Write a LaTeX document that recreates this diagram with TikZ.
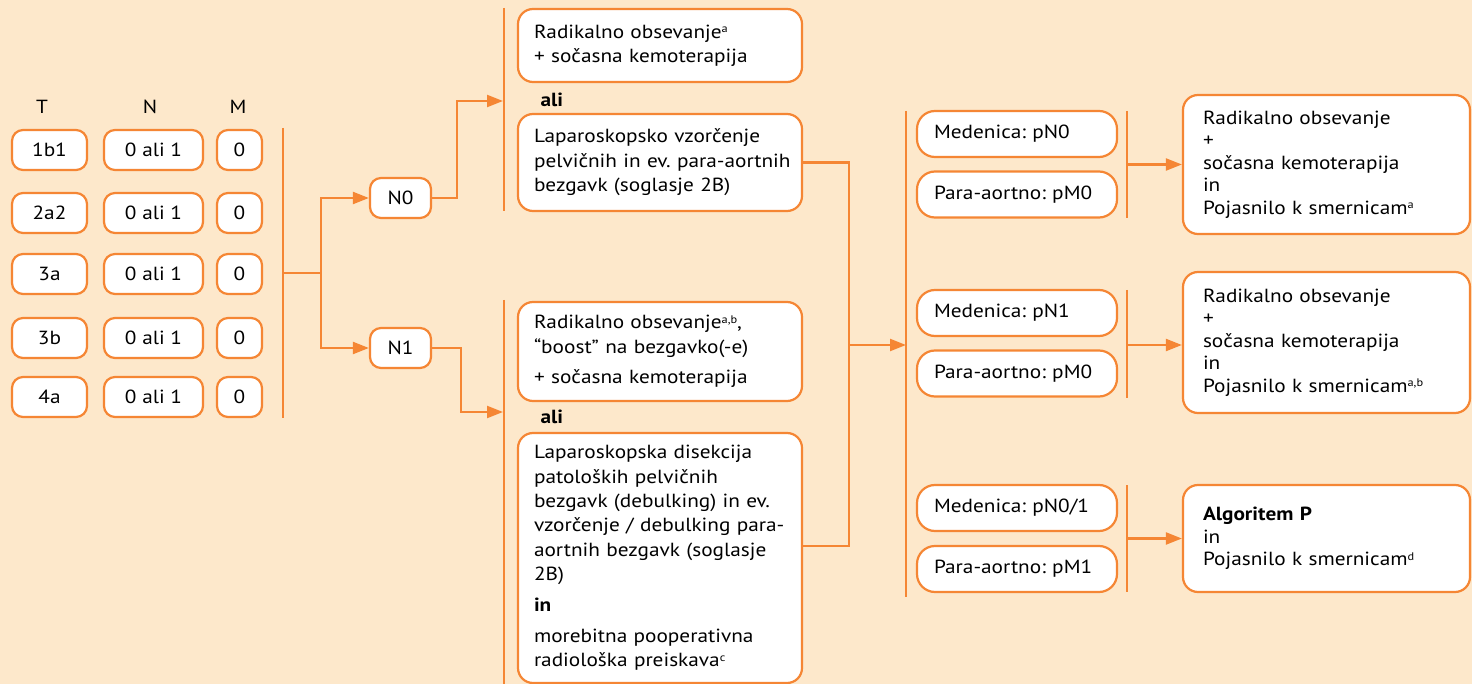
\documentclass[tikz,border=0pt]{standalone}
\usepackage{fontspec}
\setmainfont{PT Sans}[FakeStretch=1.12]
\usetikzlibrary{arrows.meta,calc}
\definecolor{bgpeach}{RGB}{253,232,203}
\definecolor{orng}{RGB}{245,134,52}
\newcommand\fnote[1]{\raisebox{0.6ex}{\fontsize{11}{11}\selectfont #1}}
\frenchspacing

\begin{document}
\begin{tikzpicture}[x=1pt,y=-1pt,
  every node/.style={font=\fontsize{19}{24.4}\selectfont, text=black},
  box/.style={draw=orng, fill=white, line width=2.2pt, rounded corners=15pt, inner sep=0pt},
  tnm/.style={box, rounded corners=11pt, minimum height=40pt, align=center},
  opt/.style={box, minimum width=284pt, text width=252pt, align=left},
  mid/.style={box, rounded corners=18pt, minimum width=200pt, minimum height=46pt, text width=166pt, align=left},
  res/.style={box, minimum width=287pt, text width=247pt, align=left, font=\fontsize{19}{22.6}\selectfont},
  conn/.style={draw=orng, line width=2.2pt},
  arr/.style={conn, -{Triangle[length=16pt,width=12pt]}},
]
% background and page size
\fill[bgpeach] (0,0) rectangle (1472,684);
\useasboundingbox (0,0) rectangle (1472,684);

% T N M table
\node (hT) at (42,107) {T};
\node (hN) at (150,107) {N};
\node (hM) at (238,107) {M};
\foreach \t [count=\i] in {1b1,2a2,3a,3b,4a}{
  \pgfmathsetmacro\yy{{150,213,274,338,397}[\i-1]}
  \node[tnm, minimum width=75pt] (t\i) at (49.5,\yy) {\t};
  \node[tnm, minimum width=99pt] (n\i) at (153.5,\yy) {0 ali 1};
  \node[tnm, minimum width=45pt] (m\i) at (239.5,\yy) {0};
}

% N0 / N1
\node[tnm, minimum width=61pt] (N0) at (400.5,198) {N0};
\node[tnm, minimum width=61pt] (N1) at (400.5,348) {N1};

% treatment options
\node[opt, minimum height=73pt] (A1) at (660,45.5)
  {Radikalno obsevanje\fnote{a}\\+ sočasna kemoterapija};
\node[anchor=west, font=\bfseries\fontsize{19}{22}\selectfont] (ali1) at (537,100) {ali};
\node[opt, minimum height=97pt] (A2) at (660,162.5)
  {Laparoskopsko vzorčenje\\\mbox{pelvičnih in ev. para-aortnih}\\bezgavk (soglasje 2B)};
\node[opt, minimum height=99pt] (B1) at (660,351.5)
  {Radikalno obsevanje\fnote{a,b},\\“boost” na bezgavko(-e)\\[6pt]+ sočasna kemoterapija};
\node[anchor=west, font=\bfseries\fontsize{19}{22}\selectfont] (ali2) at (537,417) {ali};
\node[opt, minimum height=250pt] (B2) at (660,558)
  {Laparoskopska disekcija\\patoloških pelvičnih\\\mbox{bezgavk (debulking) in ev.}\\\mbox{vzorčenje / debulking para-}\\\mbox{aortnih bezgavk (soglasje}\\2B)\\[6pt]\textbf{in}\\[7pt]morebitna pooperativna\\radiološka preiskava\fnote{c}};

% pathology findings
\node[mid] (p1) at (1017,134) {Medenica: pN0};
\node[mid] (p2) at (1017,194.5) {Para-aortno: pM0};
\node[mid] (p3) at (1017,313) {Medenica: pN1};
\node[mid] (p4) at (1017,373.5) {Para-aortno: pM0};
\node[mid] (p5) at (1017,508) {Medenica: pN0/1};
\node[mid] (p6) at (1017,569) {Para-aortno: pM1};

% results
\node[res, minimum height=139pt] (R1) at (1326.5,164.5)
  {Radikalno obsevanje\\+\\sočasna kemoterapija\\in\\Pojasnilo k smernicam\fnote{a}};
\node[res, minimum height=141pt] (R2) at (1326.5,342.5)
  {Radikalno obsevanje\\+\\sočasna kemoterapija\\in\\Pojasnilo k smernicam\fnote{a,b}};
\node[res, minimum height=107pt] (R3) at (1326.5,538.5)
  {\textbf{Algoritem P}\\in\\Pojasnilo k smernicam\fnote{d}};

% grouping bars
\coordinate (tb1) at (283,128);  \coordinate (tb2) at (283,418);
\coordinate (ab1) at (504,8);    \coordinate (ab2) at (504,211);
\coordinate (bb1) at (504,300);  \coordinate (bb2) at (504,684);
\coordinate (cb1) at (906,111);  \coordinate (cb2) at (906,597);
\coordinate (d1a) at (1127,111); \coordinate (d1b) at (1127,218);
\coordinate (d2a) at (1127,290); \coordinate (d2b) at (1127,398);
\coordinate (d3a) at (1127,485); \coordinate (d3b) at (1127,592);
\foreach \a/\b in {tb1/tb2,ab1/ab2,bb1/bb2,cb1/cb2,d1a/d1b,d2a/d2b,d3a/d3b}
  \draw[conn] (\a) -- (\b);

% connectors
\coordinate (split) at (321,273);
\draw[conn] (tb1 |- split) -- (split);
\draw[arr] (split) |- (N0.west);
\draw[arr] (split) |- (N1.west);

\coordinate (inA) at (503,101);
\coordinate (inB) at (503,412);
\draw[arr] (N0.east) -- ++(25,0) |- (inA);
\draw[arr] (N1.east) -- ++(29,0) |- (inB);

\coordinate (join) at (849,345);
\draw[conn] (A2.east) -| (join);
\draw[conn] ($(B2.east)+(0,-12)$) -| (join);
\draw[arr] (join) -- (cb1 |- join);

\draw[arr] (d1a |- R1.west) -- (R1.west);
\draw[arr] (1127,345) -- (R2.west |- 0,345);
\draw[arr] (d3a |- R3.west) -- (R3.west);
\end{tikzpicture}
\end{document}
